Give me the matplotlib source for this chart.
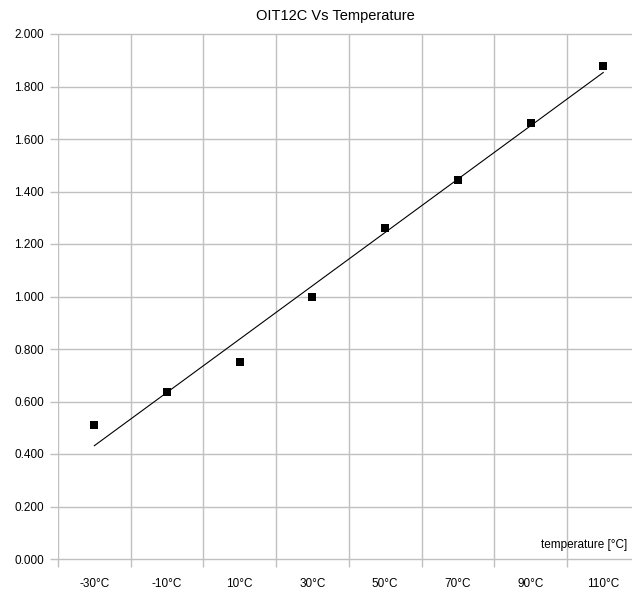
import numpy as np
import matplotlib
matplotlib.use("Agg")
import matplotlib.pyplot as plt
from matplotlib.ticker import FormatStrFormatter, FixedLocator

plt.rcParams['font.family'] = ['Liberation Sans', 'DejaVu Sans']

# data
temps  = ['-30°C', '-10°C', '10°C', '30°C', '50°C', '70°C', '90°C', '110°C']
oit    = [0.51, 0.635, 0.75, 1.0, 1.26, 1.445, 1.66, 1.88]
y_ticks = [0.0, 0.2, 0.4, 0.6, 0.8, 1.0, 1.2, 1.4, 1.6, 1.8, 2.0]

GRID = '#c0c0c0'

fig = plt.figure(figsize=(6.32, 5.99), dpi=100)
ax = fig.add_axes([58/632, 1 - 559/599, 1 - 58/632, (559 - 34)/599])

x = np.arange(len(temps))
ax.scatter(x, oit, marker='s', s=30, color='black', zorder=3, linewidths=0)

# linear trend line
k, q = np.polyfit(x, oit, 1)
ax.plot(x, k*x + q, color='black', linewidth=0.8, zorder=2)

step = 72.7
ax.set_xlim(-0.5, -0.5 + (632 - 58)/step)
ax.set_ylim(0, 2.0)

ax.set_xticks(x)
ax.set_xticklabels(temps)
ax.xaxis.set_minor_locator(FixedLocator(np.arange(-0.5, len(temps), 1.0)))
ax.tick_params(axis='x', which='major', length=0, pad=14, labelsize=8.5)
ax.tick_params(axis='x', which='minor', length=6, color=GRID, width=1)
ax.set_yticks(y_ticks)
ax.yaxis.set_major_formatter(FormatStrFormatter('%.3f'))
ax.tick_params(axis='y', length=6, color=GRID, width=1, pad=4, labelsize=8.5)

ax.grid(True, axis='y', which='major', color=GRID, linewidth=1)
ax.grid(True, axis='x', which='minor', color=GRID, linewidth=1)
for gl in ax.get_ygridlines():
    gl.set_clip_on(False)
ax.set_axisbelow(True)
for s in ax.spines.values():
    s.set_visible(False)

fig.text(627/632, 1 - 545/599, 'temperature [°C]', fontsize=8.5,
         ha='right', va='center')
fig.text(335/632, 1 - 16/599, 'OIT12C Vs Temperature', fontsize=10.5,
         ha='center', va='center')

fig.savefig('out.png', dpi=100)
